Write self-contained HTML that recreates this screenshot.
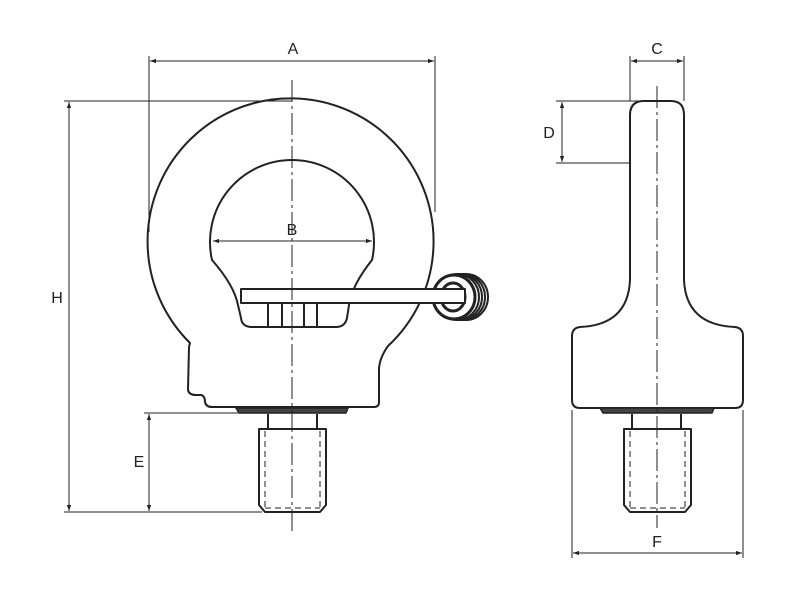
<!DOCTYPE html>
<html><head><style>
html,body{margin:0;padding:0;background:#fff;}
svg{display:block;}
text{font-family:"Liberation Sans",sans-serif;font-size:16px;fill:#222;text-anchor:middle;}
</style></head><body>
<svg width="800" height="600" viewBox="0 0 800 600" xmlns="http://www.w3.org/2000/svg">
<defs>
<marker id="ar" viewBox="0 0 10 10" refX="10" refY="5" markerWidth="9" markerHeight="6" orient="auto-start-reverse" markerUnits="userSpaceOnUse">
<path d="M0,1.5 L10,5 L0,8.5 z" fill="#222"/></marker>
</defs>
<g stroke="#222" stroke-width="2" fill="none" stroke-linejoin="round">
<!-- left body -->
<path d="M190,343 L189,347 L188,390 Q189,395 196,395 L201,395 Q205,396 205,402 Q206,407 212,407 L374,407 Q379,407 379,402 L379,368 Q380,357 388,346 A143,143 0 1 0 190,343 Z" fill="#fff"/>
<path d="M212,260 A82,82 0 1 1 372,260 Q352,285 349,305 L347,318 Q345,327 336,327 L252,327 Q242,327 241,318 L238,305 Q234,285 212,260 Z" fill="#fff"/>
<line x1="268" y1="303" x2="268" y2="327"/>
<line x1="282" y1="303" x2="282" y2="327"/>
<line x1="304" y1="303" x2="304" y2="327"/>
<line x1="317" y1="303" x2="317" y2="327"/>
<!-- coil -->
<g fill="#fff">
<ellipse cx="466" cy="297" rx="22" ry="23"/>
<ellipse cx="463" cy="297" rx="22" ry="23"/>
<ellipse cx="460" cy="297" rx="22" ry="23"/>
<ellipse cx="457" cy="297" rx="22" ry="23"/>
<ellipse cx="454" cy="297" rx="21" ry="22" stroke-width="3"/>
<ellipse cx="453" cy="297" rx="12" ry="14" stroke-width="3"/>
</g>
<rect x="241" y="289" width="224" height="14" fill="#fff"/>
<!-- washer, neck, thread left -->
<path d="M236,408 L348,408 L346,413 L239,413 Z" fill="#444" stroke-width="1.5"/>
<path d="M268,414 L268,428 M317,414 L317,428"/>
<path d="M259,429 L326,429 L326,505 L320,512 L265,512 L259,505 Z" fill="#fff"/>
<!-- right view -->
<path d="M630,280 L630,115 Q630,101 644,101 L671,101 Q684,101 684,115 L684,280 Q686,325 735,327 Q743,328 743,336 L743,400 Q743,408 735,408 L580,408 Q572,408 572,400 L572,336 Q572,328 580,327 Q628,325 630,280 Z" fill="#fff"/>
<path d="M600,408 L714,408 L712,413 L603,413 Z" fill="#444" stroke-width="1.5"/>
<path d="M632,414 L632,428 M681,414 L681,428"/>
<path d="M624,429 L691,429 L691,505 L685,512 L630,512 L624,505 Z" fill="#fff"/>
</g>
<g stroke="#222" stroke-width="1" fill="none">
<!-- dimension lines left -->
<line x1="149" y1="56" x2="149" y2="232"/>
<line x1="435" y1="56" x2="435" y2="212"/>
<line x1="150" y1="61" x2="434" y2="61" marker-start="url(#ar)" marker-end="url(#ar)"/>
<line x1="64" y1="101" x2="292" y2="101"/>
<line x1="64" y1="512" x2="262" y2="512"/>
<line x1="69" y1="102" x2="69" y2="511" marker-start="url(#ar)" marker-end="url(#ar)"/>
<line x1="144" y1="413" x2="238" y2="413"/>
<line x1="149" y1="414" x2="149" y2="511" marker-start="url(#ar)" marker-end="url(#ar)"/>
<line x1="213" y1="241" x2="372" y2="241" marker-start="url(#ar)" marker-end="url(#ar)"/>
<!-- right dims -->
<line x1="630" y1="56" x2="630" y2="101"/>
<line x1="684" y1="56" x2="684" y2="101"/>
<line x1="631" y1="61" x2="683" y2="61" marker-start="url(#ar)" marker-end="url(#ar)"/>
<line x1="556" y1="101" x2="640" y2="101"/>
<line x1="556" y1="163" x2="630" y2="163"/>
<line x1="562" y1="102" x2="562" y2="162" marker-start="url(#ar)" marker-end="url(#ar)"/>
<line x1="572" y1="410" x2="572" y2="558"/>
<line x1="743" y1="410" x2="743" y2="558"/>
<line x1="573" y1="553" x2="742" y2="553" marker-start="url(#ar)" marker-end="url(#ar)"/>
</g>
<g stroke="#222" stroke-width="1" fill="none" stroke-dasharray="6,4">
<line x1="265" y1="431" x2="265" y2="508"/>
<line x1="320" y1="431" x2="320" y2="508"/>
<line x1="265" y1="508" x2="320" y2="508"/>
<line x1="630" y1="431" x2="630" y2="508"/>
<line x1="685" y1="431" x2="685" y2="508"/>
<line x1="630" y1="508" x2="685" y2="508"/>
</g>
<g stroke="#222" stroke-width="1" fill="none" stroke-dasharray="22,4,3,4">
<line x1="292" y1="80" x2="292" y2="532"/>
<line x1="657" y1="86" x2="657" y2="528"/>
</g>
<text x="293" y="54">A</text>
<text x="292" y="235">B</text>
<text x="657" y="54">C</text>
<text x="549" y="138">D</text>
<text x="139" y="467">E</text>
<text x="657" y="547">F</text>
<text x="57" y="303">H</text>
</svg>
</body></html>
